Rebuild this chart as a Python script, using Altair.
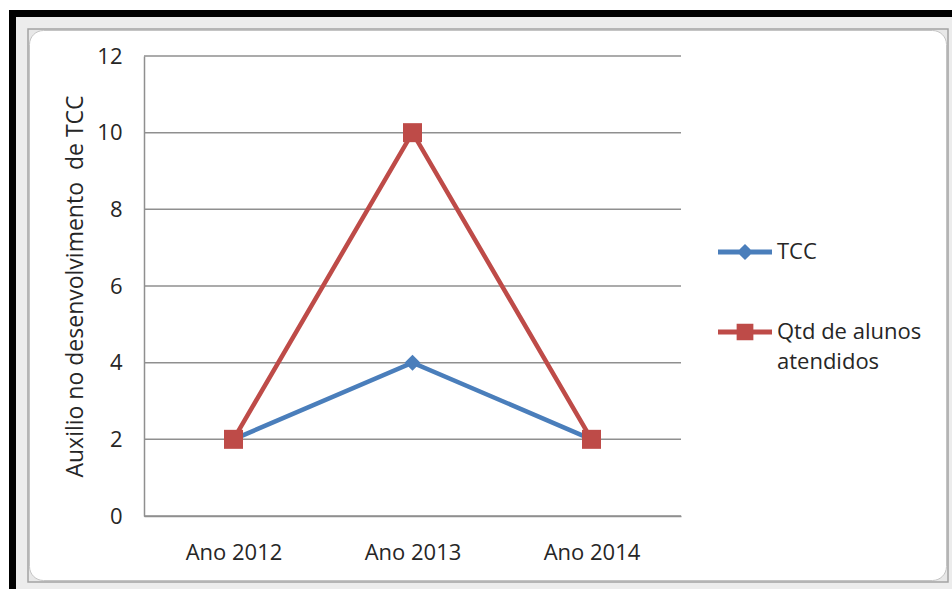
import altair as alt
import pandas as pd

# ---- data ----
years = ["Ano 2012", "Ano 2013", "Ano 2014"]
tcc = [2, 4, 2]
qtd = [2, 10, 2]
series_names = ["TCC", "Qtd de alunos atendidos"]
series_colors = ["#4A7EBB", "#BE4B48"]
y_ticks = [0, 2, 4, 6, 8, 10, 12]
y_title = "Auxilio no desenvolvimento\u00a0 de TCC"

rows = []
for name, vals in zip(series_names, [tcc, qtd]):
    for yr, v in zip(years, vals):
        rows.append({"ano": yr, "valor": v, "serie": name})
df = pd.DataFrame(rows)
ticks_df = pd.DataFrame({"valor": y_ticks})

# ---- layout ----
W, H = 537, 460
PAD_L, PAD_T, PAD_R, PAD_B = 144, 56, 271, 73
FONT = "Open Sans"
TXT = "#262626"
GRID = "#8f8f8f"
FS = 22

one = pd.DataFrame({"k": [0]})


def box(x1, y1, x2, y2, **kw):
    """decorative frame rectangle given in page pixels"""
    return alt.Chart(one).mark_rect(**kw).encode(
        x=alt.value(x1 - PAD_L), x2=alt.value(x2 - PAD_L),
        y=alt.value(y1 - PAD_T), y2=alt.value(y2 - PAD_T))


deco = [
    box(16, 17, 952, 589, color="#ececec"),
    box(10, 10, 952, 17, color="black"),
    box(9, 10, 16, 589, color="black"),
    box(28, 29, 948, 582, fill="#e8e8e8", stroke="#a3a3a3", strokeWidth=1.5),
    box(29.5, 30.5, 946.5, 580.5, fill="white", stroke="#c4c4c4", strokeWidth=1, cornerRadius=14),
]

color_scale = alt.Scale(domain=series_names, range=series_colors)
y_scale = alt.Scale(domain=[0, 12], nice=False)

x_enc = alt.X(
    "ano:N", sort=years,
    scale=alt.Scale(domain=years, type="point", padding=0.5),
    axis=alt.Axis(title=None, labelAngle=0, ticks=False, grid=False, zindex=1,
                  domainColor=GRID, domainWidth=1.5, labelPadding=26,
                  labelFont=FONT, labelFontSize=FS, labelColor=TXT,
                  labelBaseline="top"))
y_enc = alt.Y(
    "valor:Q", scale=y_scale,
    axis=alt.Axis(values=y_ticks, title=y_title, grid=False, zindex=1,
                  ticks=False, domainColor=GRID, domainWidth=1.5,
                  labelPadding=22, labelFont=FONT, labelFontSize=FS,
                  labelColor=TXT, titleFont=FONT, titleFontSize=23,
                  titleFontWeight="normal", titleColor=TXT, titleAngle=270,
                  titleX=-69, titleY=H / 2, titleAlign="center",
                  titleBaseline="middle"))

gridlines = alt.Chart(ticks_df).mark_rule(color=GRID, strokeWidth=1.5).encode(
    y=alt.Y("valor:Q", scale=y_scale), x=alt.value(0), x2=alt.value(W))

base = alt.Chart(df)

path_tcc = "M-1,-0.09H1V0.09H-1Z M0,-0.3L0.3,0L0,0.3L-0.3,0Z"
path_qtd = "M-1,-0.09H1V0.09H-1Z M-0.31,-0.31H0.31V0.31H-0.31Z"

leg_kw = dict(
    title=None, orient="none", legendX=574, legendY=169, padding=0, zindex=1,
    rowPadding=42, symbolSize=2916, symbolStrokeWidth=0, labelOffset=5,
    labelFont=FONT, labelFontSize=FS, labelColor=TXT, labelLimit=300,
    labelExpr="datum.label == 'Qtd de alunos atendidos' ? ['Qtd de alunos', 'atendidos'] : datum.label")

# invisible layer that only carries the legend (line + marker symbols)
legend_layer = base.mark_point(filled=True, size=0, opacity=1).encode(
    x=x_enc, y=y_enc,
    color=alt.Color("serie:N", scale=color_scale, legend=alt.Legend(**leg_kw)),
    shape=alt.Shape("serie:N", scale=alt.Scale(domain=series_names, range=[path_tcc, path_qtd]),
                    legend=alt.Legend(**leg_kw)))

lines = base.mark_line(strokeWidth=4.5).encode(
    x=x_enc, y=y_enc, color=alt.Color("serie:N", scale=color_scale, legend=None))

pts_tcc = base.transform_filter(alt.datum.serie == series_names[0]).mark_point(
    shape="diamond", filled=True, size=256, opacity=1).encode(
    x=x_enc, y=y_enc, color=alt.Color("serie:N", scale=color_scale, legend=None))

pts_qtd = base.transform_filter(alt.datum.serie == series_names[1]).mark_point(
    shape="square", filled=True, size=361, opacity=1).encode(
    x=x_enc, y=y_enc, color=alt.Color("serie:N", scale=color_scale, legend=None))

chart = alt.layer(*deco, gridlines, legend_layer, lines, pts_tcc, pts_qtd).properties(
    width=W, height=H,
    autosize=alt.AutoSizeParams(type="none"),
    padding={"left": PAD_L, "top": PAD_T, "right": PAD_R, "bottom": PAD_B},
    background="white",
).configure_view(stroke=None).configure(style={"guide-label": {"lineHeight": 30}})

chart.save("out.html", embed_options={"renderer": "svg", "actions": False})
